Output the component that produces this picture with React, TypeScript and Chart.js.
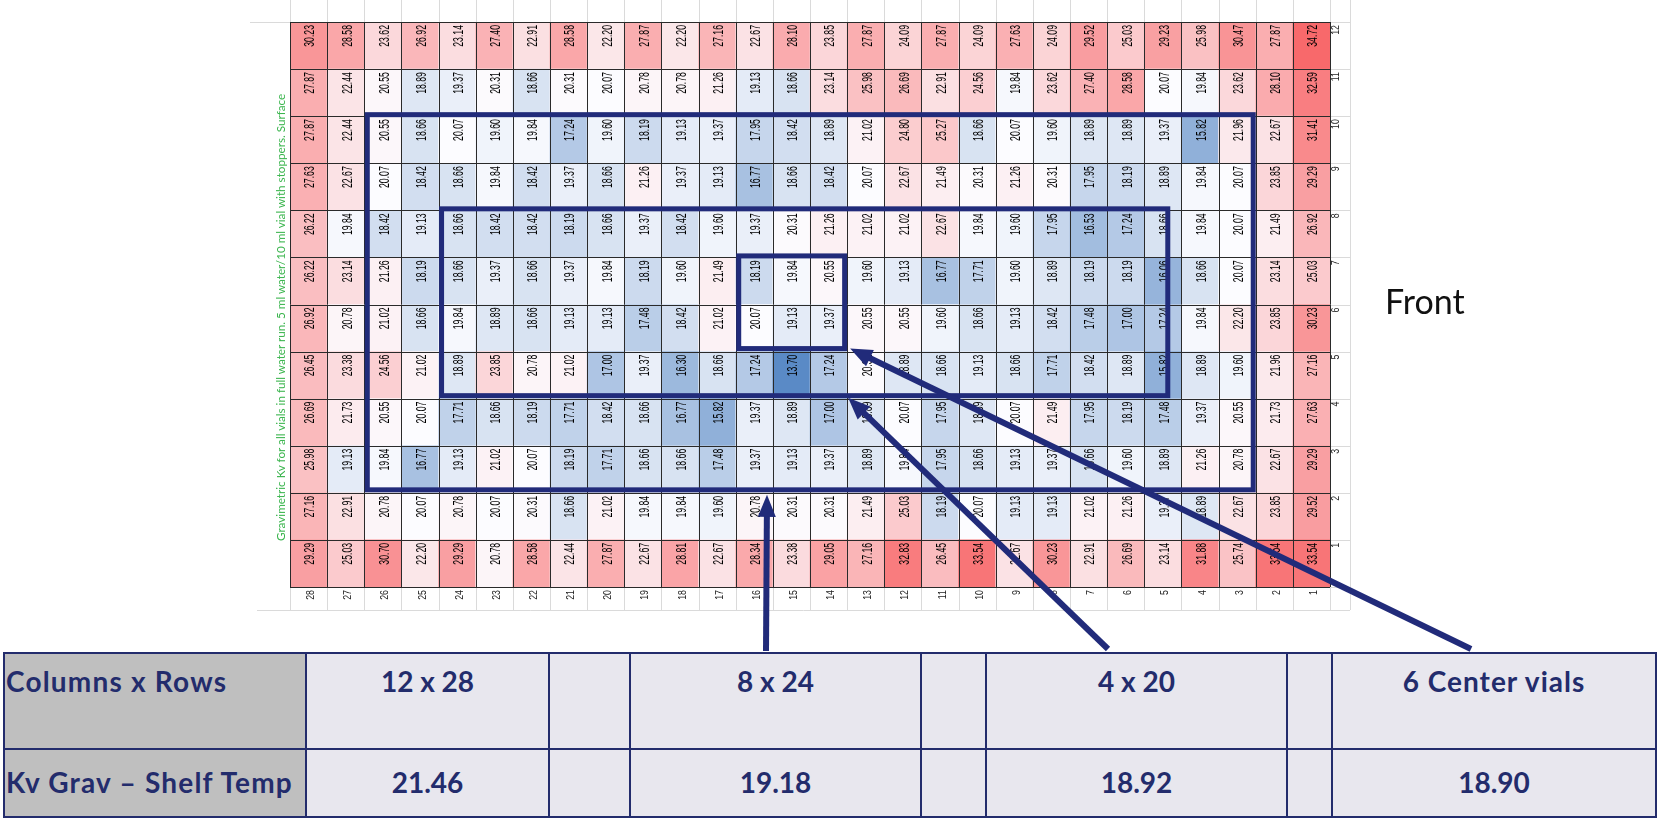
import React, { useEffect, useRef } from "react";
import { Chart, registerables } from "chart.js";

Chart.register(...registerables);

// ---------- data ----------
// Column labels (left to right as shown in the plate map)
const columnLabels = ["28", "27", "26", "25", "24", "23", "22", "21", "20", "19", "18", "17", "16", "15", "14", "13", "12", "11", "10", "9", "8", "7", "6", "5", "4", "3", "2", "1"];
// Row numbers (bottom to top)
const rowNumbers = [1, 2, 3, 4, 5, 6, 7, 8, 9, 10, 11, 12];

// Gravimetric Kv per vial, each row listed for columns 28 -> 1
const kvRow12 = [30.23, 28.58, 23.62, 26.92, 23.14, 27.40, 22.91, 28.58, 22.20, 27.87, 22.20, 27.16, 22.67, 28.10, 23.85, 27.87, 24.09, 27.87, 24.09, 27.63, 24.09, 29.52, 25.03, 29.23, 25.98, 30.47, 27.87, 34.72];
const kvRow11 = [27.87, 22.44, 20.55, 18.89, 19.37, 20.31, 18.66, 20.31, 20.07, 20.78, 20.78, 21.26, 19.13, 18.66, 23.14, 25.98, 26.69, 22.91, 24.56, 19.84, 23.62, 27.40, 28.58, 20.07, 19.84, 23.62, 28.10, 32.59];
const kvRow10 = [27.87, 22.44, 20.55, 18.66, 20.07, 19.60, 19.84, 17.24, 19.60, 18.19, 19.13, 19.37, 17.95, 18.42, 18.89, 21.02, 24.80, 25.27, 18.66, 20.07, 19.60, 18.89, 18.89, 19.37, 15.82, 21.96, 22.67, 31.41];
const kvRow9 = [27.63, 22.67, 20.07, 18.42, 18.66, 19.84, 18.42, 19.37, 18.66, 21.26, 19.37, 19.13, 16.77, 18.66, 18.42, 20.07, 22.67, 21.49, 20.31, 21.26, 20.31, 17.95, 18.19, 18.89, 19.84, 20.07, 23.85, 29.29];
const kvRow8 = [26.22, 19.84, 18.42, 19.13, 18.66, 18.42, 18.42, 18.19, 18.66, 19.37, 18.42, 19.60, 19.37, 20.31, 21.26, 21.02, 21.02, 22.67, 19.84, 19.60, 17.95, 16.53, 17.24, 18.66, 19.84, 20.07, 21.49, 26.92];
const kvRow7 = [26.22, 23.14, 21.26, 18.19, 18.66, 19.37, 18.66, 19.37, 19.84, 18.19, 19.60, 21.49, 18.19, 19.84, 20.55, 19.60, 19.13, 16.77, 17.71, 19.60, 18.89, 18.19, 18.19, 16.06, 18.66, 20.07, 23.14, 25.03];
const kvRow6 = [26.92, 20.78, 21.02, 18.66, 19.84, 18.89, 18.66, 19.13, 19.13, 17.48, 18.42, 21.02, 20.07, 19.13, 19.37, 20.55, 20.55, 19.60, 18.66, 19.13, 18.42, 17.48, 17.00, 17.24, 19.84, 22.20, 23.85, 30.23];
const kvRow5 = [26.45, 23.38, 24.56, 21.02, 18.89, 23.85, 20.78, 21.02, 17.00, 19.37, 16.30, 18.66, 17.24, 13.70, 17.24, 20.31, 18.89, 18.66, 19.13, 18.66, 17.71, 18.42, 18.89, 15.82, 18.89, 19.60, 21.96, 27.16];
const kvRow4 = [26.69, 21.73, 20.55, 20.07, 17.71, 18.66, 18.19, 17.71, 18.42, 18.66, 16.77, 15.82, 19.37, 18.89, 17.00, 18.89, 20.07, 17.95, 18.89, 20.07, 21.49, 17.95, 18.19, 17.48, 19.37, 20.55, 21.73, 27.63];
const kvRow3 = [25.98, 19.13, 19.84, 16.77, 19.13, 21.02, 20.07, 18.19, 17.71, 18.66, 18.66, 17.48, 19.37, 19.13, 19.37, 18.89, 19.84, 17.95, 18.66, 19.13, 19.37, 18.66, 19.60, 18.89, 21.26, 20.78, 22.67, 29.29];
const kvRow2 = [27.16, 22.91, 20.78, 20.07, 20.78, 20.07, 20.31, 18.66, 21.02, 19.84, 19.84, 19.60, 20.78, 20.31, 20.31, 21.49, 25.03, 18.19, 20.07, 19.13, 19.13, 21.02, 21.26, 19.37, 18.89, 22.67, 23.85, 29.52];
const kvRow1 = [29.29, 25.03, 30.70, 22.20, 29.29, 20.78, 28.58, 22.44, 27.87, 22.67, 28.81, 22.67, 28.34, 23.38, 29.05, 27.16, 32.83, 26.45, 33.54, 22.67, 30.23, 22.91, 26.69, 23.14, 31.88, 25.74, 33.54, 33.54];

const kvRows = [kvRow1, kvRow2, kvRow3, kvRow4, kvRow5, kvRow6, kvRow7, kvRow8, kvRow9, kvRow10, kvRow11, kvRow12];

// Summary table
const tableHeaderRow = ["Columns x Rows", "12 x 28", "", "8 x 24", "", "4 x 20", "", "6 Center vials"];
const tableValueRow = ["Kv Grav \u2013 Shelf Temp", "21.46", "", "19.18", "", "18.92", "", "18.90"];

const chartTitle = "Gravimetric Kv for all vials in full water run. 5 ml water/10 ml vial with stoppers. Surface";
const sideLabel = "Front";

// Highlighted regions (by column label / row number)
const highlightBoxes = [
  { fromCol: "26", toCol: "3", fromRow: 3, toRow: 10, rightTrim: 0 },
  { fromCol: "24", toCol: "5", fromRow: 5, toRow: 8, rightTrim: 0.3 },
  { fromCol: "16", toCol: "14", fromRow: 6, toRow: 7, rightTrim: 0 },
];

// ---------- styling ----------
const NAVY = "#212b7a";
const TABLE_NAVY = "#232c6c";
const TABLE_X = [4, 306, 549, 630, 921, 986, 1287, 1332, 1656];
const TABLE_Y = [653, 749, 817];

// Excel-like 3-colour scale
const allValues = kvRows.flat();
const sortedVals = [...allValues].sort((a, b) => a - b);
const vMin = sortedVals[0];
const vMax = sortedVals[sortedVals.length - 1];
const vMid = (sortedVals[sortedVals.length / 2 - 1] + sortedVals[sortedVals.length / 2]) / 2;
const cBlue = [90, 138, 198];
const cWhite = [252, 252, 255];
const cRed = [248, 105, 107];
function mix(a: number[], b: number[], t: number) {
  const c = a.map((v, i) => Math.round(v + (b[i] - v) * t));
  return `rgb(${c[0]},${c[1]},${c[2]})`;
}
function colorFor(v: number) {
  if (v <= vMid) return mix(cBlue, cWhite, (v - vMin) / (vMid - vMin));
  return mix(cWhite, cRed, (v - vMid) / (vMax - vMid));
}

const overlayPlugin = {
  id: "plateOverlay",
  afterDatasetsDraw(chart: any) {
    const ctx = chart.ctx as CanvasRenderingContext2D;
    const xs = chart.scales.x;
    const ys = chart.scales.y;
    const ca = chart.chartArea;
    const nCols = columnLabels.length;
    const colW = xs.getPixelForValue(1) - xs.getPixelForValue(0);
    const colLeft = (i: number) => xs.getPixelForValue(i) - colW / 2;
    const labelRowBottom = ca.bottom + 23;
    const sideColRight = ca.right + 20;

    ctx.save();
    // light spreadsheet lines
    ctx.strokeStyle = "#dadada";
    ctx.lineWidth = 1;
    ctx.beginPath();
    for (let i = 0; i <= nCols; i++) {
      const x = Math.round(colLeft(i)) + 0.5;
      ctx.moveTo(x, 0);
      ctx.lineTo(x, ca.top);
      ctx.moveTo(x, ca.bottom);
      ctx.lineTo(x, labelRowBottom);
    }
    ctx.moveTo(257, labelRowBottom + 0.5);
    ctx.lineTo(sideColRight, labelRowBottom + 0.5);
    ctx.moveTo(250, Math.round(ca.top) + 0.5);
    ctx.lineTo(ca.left, Math.round(ca.top) + 0.5);
    ctx.moveTo(sideColRight + 0.5, 0);
    ctx.lineTo(sideColRight + 0.5, labelRowBottom);
    for (let r = 0; r <= 12; r++) {
      const y = Math.round(ys.getPixelForValue(r)) + 0.5;
      ctx.moveTo(ca.right, y);
      ctx.lineTo(sideColRight, y);
    }
    ctx.stroke();

    // dark cell grid
    ctx.strokeStyle = "#2a2a2a";
    ctx.beginPath();
    for (let i = 0; i <= nCols; i++) {
      const x = Math.round(colLeft(i)) + 0.5;
      ctx.moveTo(x, ca.top);
      ctx.lineTo(x, ca.bottom);
    }
    for (let r = 0; r <= 12; r++) {
      const y = Math.round(ys.getPixelForValue(r)) + 0.5;
      ctx.moveTo(ca.left, y);
      ctx.lineTo(ca.right, y);
    }
    ctx.stroke();

    const drawVertical = (text: string, x: number, yTop: number, font: string, squeeze: number, color: string) => {
      ctx.save();
      ctx.translate(x, yTop);
      ctx.rotate(-Math.PI / 2);
      ctx.scale(squeeze, 1);
      ctx.font = font;
      ctx.fillStyle = color;
      ctx.textAlign = "right";
      ctx.textBaseline = "middle";
      ctx.fillText(text, 0, 0);
      ctx.restore();
    };

    // cell values
    kvRows.forEach((vals, k) => {
      const top = ys.getPixelForValue(rowNumbers[k]);
      vals.forEach((v, i) => {
        drawVertical(v.toFixed(2), xs.getPixelForValue(i) + 2, top + 3, '14px "Liberation Sans", Arial, sans-serif', 0.62, "#000");
      });
    });
    // column labels
    columnLabels.forEach((lab, i) => {
      drawVertical(lab, xs.getPixelForValue(i) + 2.5, ca.bottom + 3, '11px "Liberation Sans", Arial, sans-serif', 0.8, "#222");
    });
    // row labels
    rowNumbers.forEach((r) => {
      drawVertical(String(r), ca.right + 5.5, ys.getPixelForValue(r) + 3, '11px "Liberation Sans", Arial, sans-serif', 0.8, "#222");
    });

    // highlight boxes
    ctx.strokeStyle = NAVY;
    ctx.lineWidth = 5;
    ctx.lineJoin = "miter";
    highlightBoxes.forEach((b) => {
      const i0 = columnLabels.indexOf(b.fromCol);
      const i1 = columnLabels.indexOf(b.toCol);
      const left = colLeft(i0) + 3;
      const right = colLeft(i1 + 1) - 2.5 - b.rightTrim * colW;
      const top = ys.getPixelForValue(b.toRow) - 1.5;
      const bottom = ys.getPixelForValue(b.fromRow - 1) - 3;
      ctx.strokeRect(left, top, right - left, bottom - top);
    });

    // arrows from the summary table to the regions
    const c13 = colLeft(columnLabels.indexOf("13"));
    const arrows = [
      { tail: [766, 651], tip: [767, ys.getPixelForValue(2) + 2] },
      { tail: [1108, 649], tip: [c13 + 1, ys.getPixelForValue(4) - 1] },
      { tail: [1471, 649], tip: [c13 + 3, ys.getPixelForValue(5) - 3] },
    ];
    ctx.fillStyle = NAVY;
    ctx.lineWidth = 6;
    ctx.lineCap = "butt";
    arrows.forEach(({ tail, tip }) => {
      const dx = tip[0] - tail[0];
      const dy = tip[1] - tail[1];
      const len = Math.hypot(dx, dy);
      const ux = dx / len;
      const uy = dy / len;
      const headLen = 22;
      const headW = 9;
      const bx = tip[0] - ux * headLen;
      const by = tip[1] - uy * headLen;
      ctx.beginPath();
      ctx.moveTo(tail[0], tail[1]);
      ctx.lineTo(bx + ux * 2, by + uy * 2);
      ctx.stroke();
      ctx.beginPath();
      ctx.moveTo(tip[0], tip[1]);
      ctx.lineTo(bx - uy * headW, by + ux * headW);
      ctx.lineTo(bx + uy * headW, by - ux * headW);
      ctx.closePath();
      ctx.fill();
    });
    ctx.restore();
  },
};

function SummaryTable() {
  const cells: React.ReactNode[] = [];
  [tableHeaderRow, tableValueRow].forEach((row, ri) => {
    row.forEach((txt, ci) => {
      const x0 = TABLE_X[ci];
      const x1 = TABLE_X[ci + 1];
      const y0 = TABLE_Y[ri];
      const y1 = TABLE_Y[ri + 1];
      const wordy = /[a-wyzA-Z]/.test(txt);
      cells.push(
        <div
          key={`${ri}-${ci}`}
          style={{
            position: "absolute",
            left: x0 - 1,
            top: y0 - 1,
            width: x1 - x0 + 2,
            height: y1 - y0 + 2,
            boxSizing: "border-box",
            border: `2px solid ${TABLE_NAVY}`,
            background: ci === 0 ? "#bfbfbf" : "#e8e7ee",
            display: "flex",
            alignItems: ri === 0 ? "flex-start" : "center",
            justifyContent: ci === 0 ? "flex-start" : "center",
            paddingTop: ri === 0 ? 11 : 0,
            paddingLeft: ci === 0 ? 1 : 0,
            color: TABLE_NAVY,
            fontFamily: "Lato, 'Open Sans', sans-serif",
            fontWeight: 700,
            fontSize: 28,
            letterSpacing: wordy ? (ci === 0 ? 1.2 : 1.0) : 0,
            lineHeight: 1.2,
            whiteSpace: "nowrap",
          }}
        >
          {txt}
        </div>
      );
    });
  });
  return <>{cells}</>;
}

export default function App() {
  const canvasRef = useRef<HTMLCanvasElement | null>(null);

  useEffect(() => {
    if (!canvasRef.current) return;
    const chart = new Chart(canvasRef.current, {
      type: "bar",
      data: {
        labels: columnLabels,
        datasets: kvRows.map((vals, k) => ({
          label: `Row ${rowNumbers[k]}`,
          data: columnLabels.map(() => [rowNumbers[k] - 1, rowNumbers[k]]),
          backgroundColor: vals.map(colorFor),
          borderWidth: 0,
          barPercentage: 1,
          categoryPercentage: 1,
          grouped: false,
        })) as any,
      },
      options: {
        responsive: false,
        animation: false,
        devicePixelRatio: 1,
        layout: { padding: { left: 290, right: 330, top: 22, bottom: 239 } },
        plugins: { legend: { display: false }, tooltip: { enabled: false } },
        scales: {
          x: { type: "category", display: false, offset: true },
          y: { type: "linear", min: 0, max: 12, display: false },
        },
      },
      plugins: [overlayPlugin],
    });
    return () => chart.destroy();
  }, []);

  return (
    <div style={{ position: "absolute", left: 0, top: 0, width: 1660, height: 826, background: "#fff", overflow: "hidden" }}>
      <canvas ref={canvasRef} width={1660} height={826} style={{ position: "absolute", left: 0, top: 0, width: 1660, height: 826 }} />
      <div
        style={{
          position: "absolute",
          left: 273,
          top: 541,
          transform: "rotate(-90deg)",
          transformOrigin: "left top",
          whiteSpace: "nowrap",
          fontFamily: "Lato, 'Open Sans', sans-serif",
          fontSize: 11.7,
          lineHeight: 1.2,
          color: "#3bb54e",
        }}
      >
        {chartTitle}
      </div>
      <div
        style={{
          position: "absolute",
          left: 1385,
          top: 281,
          fontFamily: "Lato, 'Open Sans', sans-serif",
          fontSize: 34,
          lineHeight: 1.2,
          color: "#111",
          whiteSpace: "nowrap",
        }}
      >
        {sideLabel}
      </div>
      <SummaryTable />
    </div>
  );
}
